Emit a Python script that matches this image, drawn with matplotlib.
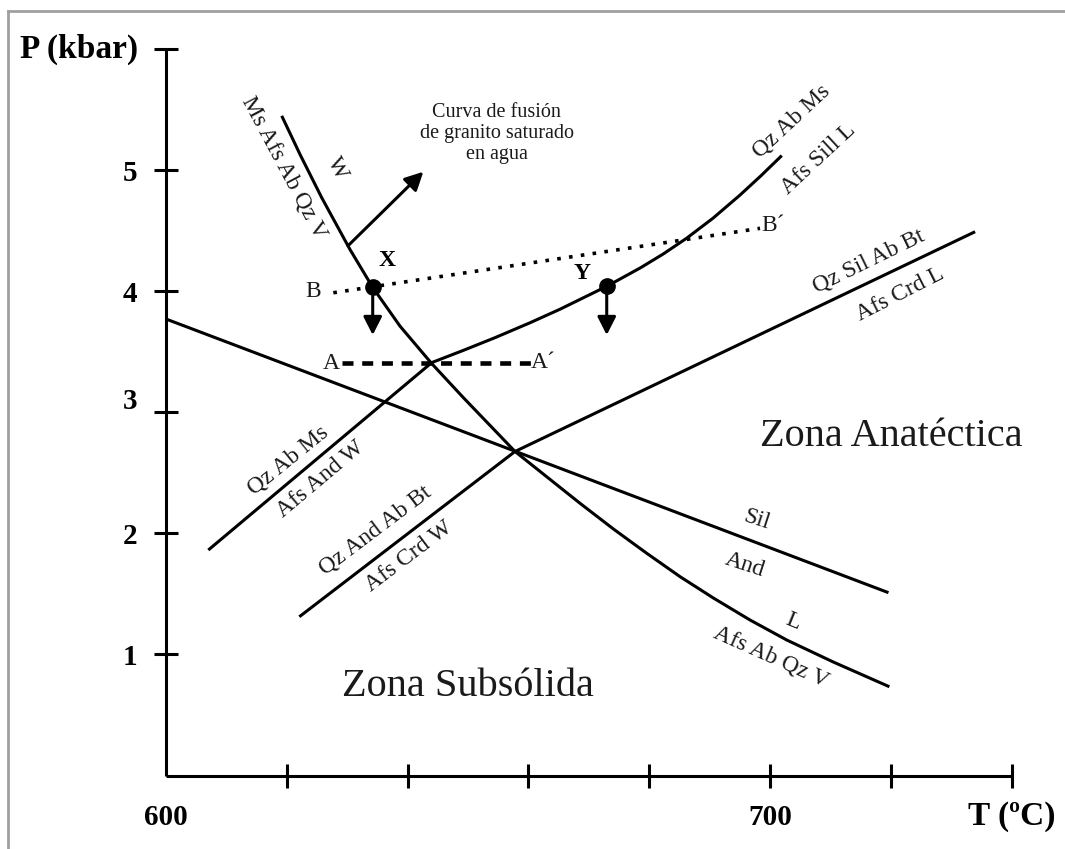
import matplotlib
matplotlib.use("Agg")
import matplotlib.pyplot as plt
from matplotlib.lines import Line2D
from matplotlib.transforms import ScaledTranslation

plt.rcParams['font.family'] = ['Liberation Serif', 'DejaVu Serif']

# ---------------- data (T in ºC, P in kbar) ----------------
# Solidus: Ms Afs Ab Qz V = W  /  Afs Ab Qz V = L
solidus_T = [619.16, 622.19, 625.78, 630.46, 634.22, 638.74, 643.99, 649.22,
             657.78, 663.03, 668.54, 674.06, 679.59, 685.10, 690.61, 696.69,
             702.76, 710.48, 719.75]
solidus_P = [5.448, 5.129, 4.772, 4.344, 4.031, 3.711, 3.402, 3.121,
             2.676, 2.467, 2.248, 2.036, 1.835, 1.642, 1.466, 1.284,
             1.119, 0.937, 0.733]

# Qz Ab Ms = Afs And W  (straight)  -> Qz Ab Ms = Afs Sill L (curved)
musc_T = [607.00, 643.99, 649.22, 654.47, 660.26, 665.23, 672.96, 678.48,
          682.28, 686.21, 690.56, 695.03, 698.51, 701.94]
musc_P = [1.862, 3.410, 3.511, 3.616, 3.739, 3.851, 4.040, 4.191,
          4.306, 4.438, 4.603, 4.794, 4.954, 5.120]

# Sil / And
silAnd_T = [600.0, 719.6]
silAnd_P = [3.770, 1.510]

# Qz And Ab Bt = Afs Crd W  -> Qz Sil Ab Bt = Afs Crd L
biot_T = [622.07, 657.78, 733.94]
biot_P = [1.311, 2.676, 4.491]

# Reference paths
BB_T = [627.7, 698.34]
BB_P = [3.987, 4.519]
AA_T = [629.09, 661.37]
AA_P = [3.410, 3.410]

# Points X and Y and their decompression arrows
pts_T = [634.22, 672.96]
pts_P = [4.031, 4.040]
arrow_end_P = [3.638, 3.638]

# Arrow pointing to the melting curve label
fus_arrow_T = [630.13, 642.6]
fus_arrow_P = [4.375, 4.986]

xticks = [600, 620, 640, 660, 680, 700, 720, 740]
xticklabels = ['600', '', '', '', '', '700', '', '']
yticks = [1, 2, 3, 4, 5, 6]
yticklabels = ['1', '2', '3', '4', '5', '']

# ---------------- figure ----------------
W, H = 1065, 849
fig = plt.figure(figsize=(W / 100, H / 100), dpi=100)
fig.patch.set_facecolor('white')
ax = fig.add_axes([166 / W, (H - 775.5) / H, (1011.7 - 166) / W, (775.5 - 49) / H])
ax.set_xlim(600, 740)
ax.set_ylim(0, 6)
for s in ['top', 'right']:
    ax.spines[s].set_visible(False)
for s in ['left', 'bottom']:
    ax.spines[s].set_linewidth(2.2)
    ax.spines[s].set_capstyle('butt')

ax.set_xticks(xticks)
ax.set_xticklabels(xticklabels, fontweight='bold', fontsize=21)
ax.set_yticks(yticks)
ax.set_yticklabels(yticklabels, fontweight='bold', fontsize=21)
ax.tick_params(direction='inout', length=17, width=2.2, pad=12, colors='black')
ax.xaxis.get_major_ticks()[0].tick1line.set_visible(False)
# the "3" label sits a little above its tick in the original
lbl3 = ax.yaxis.get_major_ticks()[2].label1
lbl3.set_transform(lbl3.get_transform() + ScaledTranslation(0, 0.14, fig.dpi_scale_trans))

lw = 2.2
ax.plot(solidus_T, solidus_P, color='black', lw=lw, solid_capstyle='butt',
        solid_joinstyle='round')
ax.plot(musc_T, musc_P, color='black', lw=lw, solid_capstyle='butt',
        solid_joinstyle='round')
ax.plot(silAnd_T, silAnd_P, color='black', lw=lw, solid_capstyle='butt')
ax.plot(biot_T, biot_P, color='black', lw=lw, solid_capstyle='butt',
        solid_joinstyle='round')
ax.plot(BB_T, BB_P, color='black', lw=2.6, linestyle=(0, (1, 2.3)),
        dash_capstyle='butt')
ax.plot(AA_T, AA_P, color='black', lw=3.3, linestyle=(0, (2.4, 1.9)),
        dash_capstyle='butt')

ax.plot(pts_T, pts_P, 'o', color='black', markersize=11, zorder=5)
for t, p0, p1 in zip(pts_T, pts_P, arrow_end_P):
    ax.annotate('', xy=(t, p1), xytext=(t, p0),
                arrowprops=dict(arrowstyle='-|>,head_length=0.55,head_width=0.28',
                                color='black', lw=2.2, shrinkA=0, shrinkB=0,
                                mutation_scale=20))
ax.annotate('', xy=(fus_arrow_T[1], fus_arrow_P[1]),
            xytext=(fus_arrow_T[0], fus_arrow_P[0]),
            arrowprops=dict(arrowstyle='-|>,head_length=0.55,head_width=0.28',
                            color='black', lw=2.2, shrinkA=0, shrinkB=0,
                            mutation_scale=20))

tc = '#1a1a1a'
def lab(s, x, y, rot=0, size=17, **kw):
    ax.text(x, y, s, rotation=rot, rotation_mode='anchor', ha='center',
            va='center', fontsize=size, color=kw.pop('color', tc), **kw)

# Mineral assemblage labels
lab('Ms Afs Ab Qz V', 619.5, 5.02, -62)
lab('W', 628.36, 5.014, -62)
lab('Qz Ab Ms', 703.59, 5.407, 43)
lab('Afs Sill L', 708.0, 5.091, 43)
lab('Qz Sil Ab Bt', 716.28, 4.243, 26)
lab('Afs Crd L', 721.52, 3.976, 27)
lab('Qz Ab Ms', 620.25, 2.605, 39)
lab('Afs And W', 625.61, 2.446, 40)
lab('Qz And Ab Bt', 634.60, 2.021, 37)
lab('Afs Crd W', 640.23, 1.807, 37)
lab('Sil', 697.80, 2.110, -18)
lab('And', 695.86, 1.738, -18)
lab('L', 703.76, 1.270, -22)
lab('Afs Ab Qz V', 700.12, 0.981, -24)

lab('X', 636.54, 4.257, 0, 17, fontweight='bold', color='black')
lab('Y', 668.82, 4.147, 0, 17, fontweight='bold', color='black')
lab('B', 624.29, 3.995)
lab('B\u00b4', 700.55, 4.546)
lab('A', 627.43, 3.404)
lab('A\u00b4', 662.47, 3.409)

ax.text(654.75, 5.30, 'Curva de fusión\nde granito saturado\nen agua',
        ha='center', va='center', fontsize=14.5, color=tc, linespacing=1.15)

lab('Zona Anatéctica', 720.03, 2.798, 0, 29)
lab('Zona Subsólida', 650.0, 0.739, 0, 29)

# Axis titles
ax.text(585.6, 6.0, 'P (kbar)', ha='center', va='center', fontsize=24,
        fontweight='bold', clip_on=False)
ax.text(740.0, -0.34, 'T (ºC)', ha='center', va='center', fontsize=24,
        fontweight='bold', clip_on=False)

# light grey frame (top and left)
fig.add_artist(Line2D([8 / W, 1.0], [1 - 11 / H, 1 - 11 / H],
                      transform=fig.transFigure, color='#a0a0a0', lw=2))
fig.add_artist(Line2D([8 / W, 8 / W], [0.0, 1 - 11 / H],
                      transform=fig.transFigure, color='#a0a0a0', lw=2))

fig.savefig('out.png', dpi=100, facecolor='white')
